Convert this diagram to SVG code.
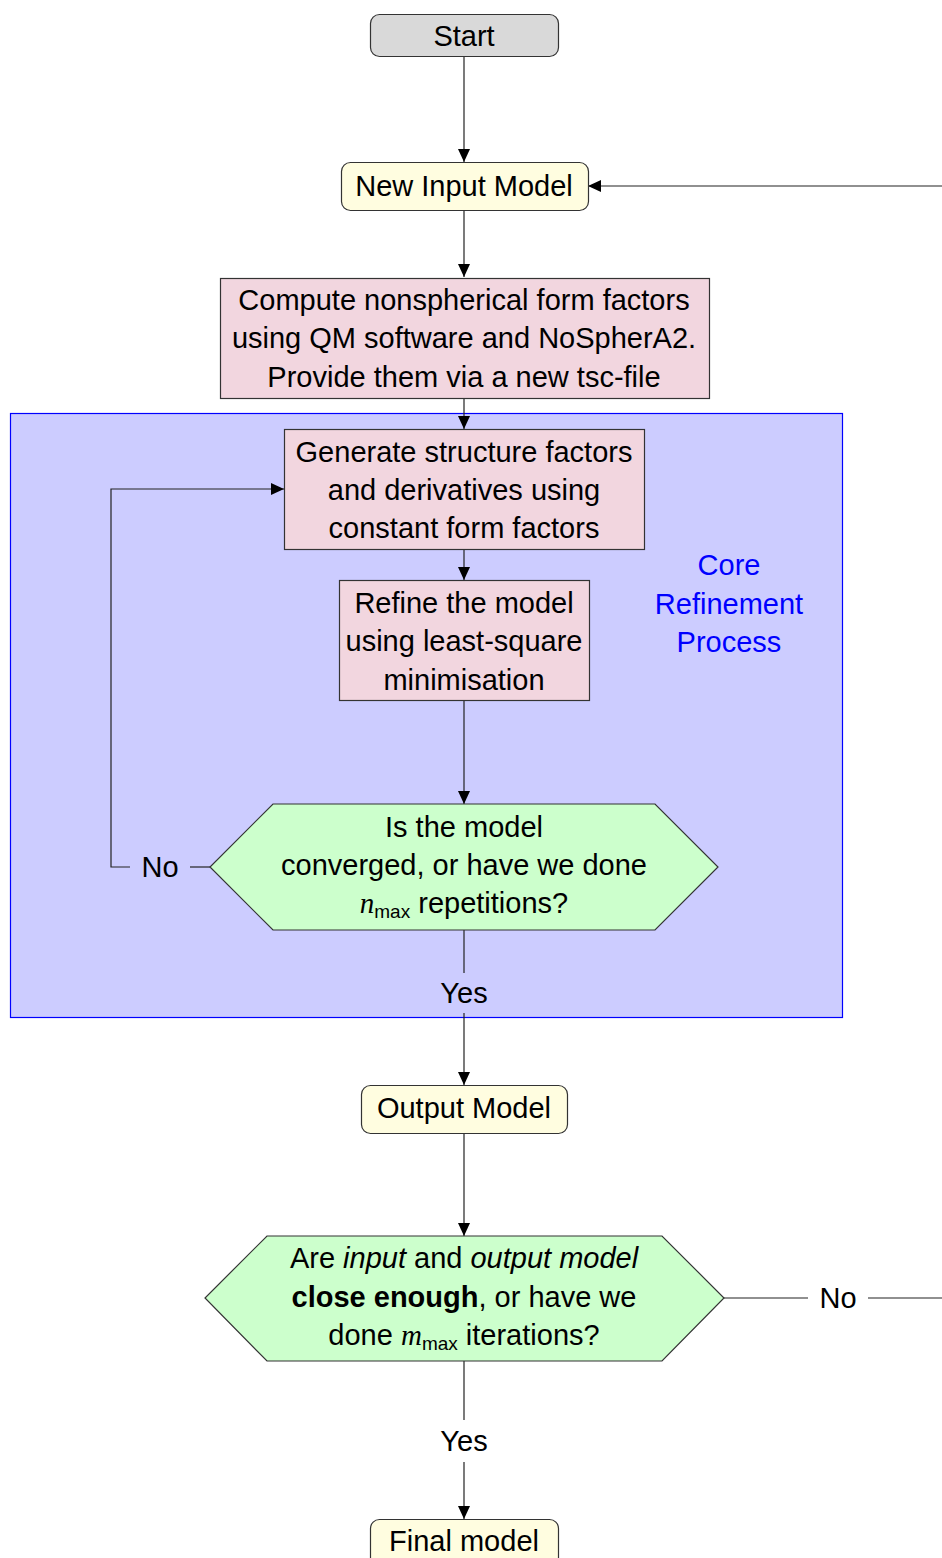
<svg xmlns="http://www.w3.org/2000/svg" width="942" height="1558" viewBox="0 0 942 1558">
  <defs>
    <marker id="arrow" markerUnits="userSpaceOnUse" markerWidth="14" markerHeight="12" refX="13" refY="6" orient="auto">
      <path d="M0,0 L13,6 L0,12 z" fill="#000"/>
    </marker>
    <style>
      text { font-family: "Liberation Sans", Arial, sans-serif; font-size: 29px; fill: #000; text-anchor: middle; }
      .node { stroke: #333; stroke-width: 1.2; }
      .term { fill: #d9d9d9; }
      .io { fill: #fffde0; }
      .proc { fill: #f2d6df; }
      .dec { fill: #ccffcc; }
      .edge { fill: none; stroke: #222; stroke-width: 1.2; }
      .math { font-family: "Liberation Serif", "Times New Roman", serif; font-style: italic; }
      .sub { font-size: 19px; }
      .core { fill: #0000ff; }
    </style>
  </defs>

  <!-- Core refinement region -->
  <g id="core-region">
    <rect x="10.5" y="413.5" width="832" height="604" fill="#ccccff" stroke="#0000ff" stroke-width="1.2"/>
    <text class="core" x="729" y="575">Core</text>
    <text class="core" x="729" y="614">Refinement</text>
    <text class="core" x="729" y="652">Process</text>
  </g>

  <!-- Connectors -->
  <g id="connectors">
    <path class="edge" d="M464,56 V162" marker-end="url(#arrow)"/>
    <path class="edge" d="M464,210 V277" marker-end="url(#arrow)"/>
    <path class="edge" d="M464,398 V429" marker-end="url(#arrow)"/>
    <path class="edge" d="M464,549 V580" marker-end="url(#arrow)"/>
    <path class="edge" d="M464,700 V804" marker-end="url(#arrow)"/>
    <!-- No branch of inner loop -->
    <path class="edge" d="M210,867 H190"/>
    <path class="edge" d="M130,867 H111 V489 H284" marker-end="url(#arrow)"/>
    <text x="160" y="877">No</text>
    <!-- Yes branch of inner loop -->
    <path class="edge" d="M464,930 V973"/>
    <path class="edge" d="M464,1013 V1085" marker-end="url(#arrow)"/>
    <text x="464" y="1003">Yes</text>
    <path class="edge" d="M464,1133 V1236" marker-end="url(#arrow)"/>
    <!-- No branch of outer loop -->
    <path class="edge" d="M724,1298 H808"/>
    <path class="edge" d="M868,1298 H960 V186 H588" marker-end="url(#arrow)"/>
    <text x="838" y="1308">No</text>
    <!-- Yes branch of outer loop -->
    <path class="edge" d="M464,1361 V1420"/>
    <path class="edge" d="M464,1462 V1519" marker-end="url(#arrow)"/>
    <text x="464" y="1451">Yes</text>
  </g>

  <g id="start">
    <rect class="node term" x="370.5" y="14.5" width="188" height="42" rx="9"/>
    <text x="464" y="46">Start</text>
  </g>

  <g id="new-input-model">
    <rect class="node io" x="341.5" y="162.5" width="247" height="48" rx="9"/>
    <text x="464" y="196">New Input Model</text>
  </g>

  <g id="compute-form-factors">
    <rect class="node proc" x="220.5" y="278.5" width="489" height="120"/>
    <text x="464" y="310">Compute nonspherical form factors</text>
    <text x="464" y="348">using QM software and NoSpherA2.</text>
    <text x="464" y="387">Provide them via a new tsc-file</text>
  </g>

  <g id="generate-structure-factors">
    <rect class="node proc" x="284.5" y="429.5" width="360" height="120"/>
    <text x="464" y="462">Generate structure factors</text>
    <text x="464" y="500">and derivatives using</text>
    <text x="464" y="538">constant form factors</text>
  </g>

  <g id="refine-model">
    <rect class="node proc" x="339.5" y="580.5" width="250" height="120"/>
    <text x="464" y="613">Refine the model</text>
    <text x="464" y="651">using least-square</text>
    <text x="464" y="690">minimisation</text>
  </g>

  <g id="converged-check">
    <polygon class="node dec" points="273,804 655,804 718,867 655,930 273,930 210,867"/>
    <text x="464" y="837">Is the model</text>
    <text x="464" y="875">converged, or have we done</text>
    <text x="464" y="913"><tspan class="math">n</tspan><tspan class="sub" dy="5">max</tspan><tspan dy="-5"> repetitions?</tspan></text>
  </g>

  <g id="output-model">
    <rect class="node io" x="361.5" y="1085.5" width="206" height="48" rx="9"/>
    <text x="464" y="1118">Output Model</text>
  </g>

  <g id="close-enough-check">
    <polygon class="node dec" points="267,1236 662,1236 724,1298 662,1361 267,1361 205,1298"/>
    <text x="464" y="1268">Are <tspan font-style="italic">input</tspan> and <tspan font-style="italic">output model</tspan></text>
    <text x="464" y="1307"><tspan font-weight="bold">close enough</tspan>, or have we</text>
    <text x="464" y="1345">done <tspan class="math">m</tspan><tspan class="sub" dy="5">max</tspan><tspan dy="-5"> iterations?</tspan></text>
  </g>

  <g id="final-model">
    <rect class="node io" x="370.5" y="1519.5" width="188" height="48" rx="9"/>
    <text x="464" y="1551">Final model</text>
  </g>
</svg>
